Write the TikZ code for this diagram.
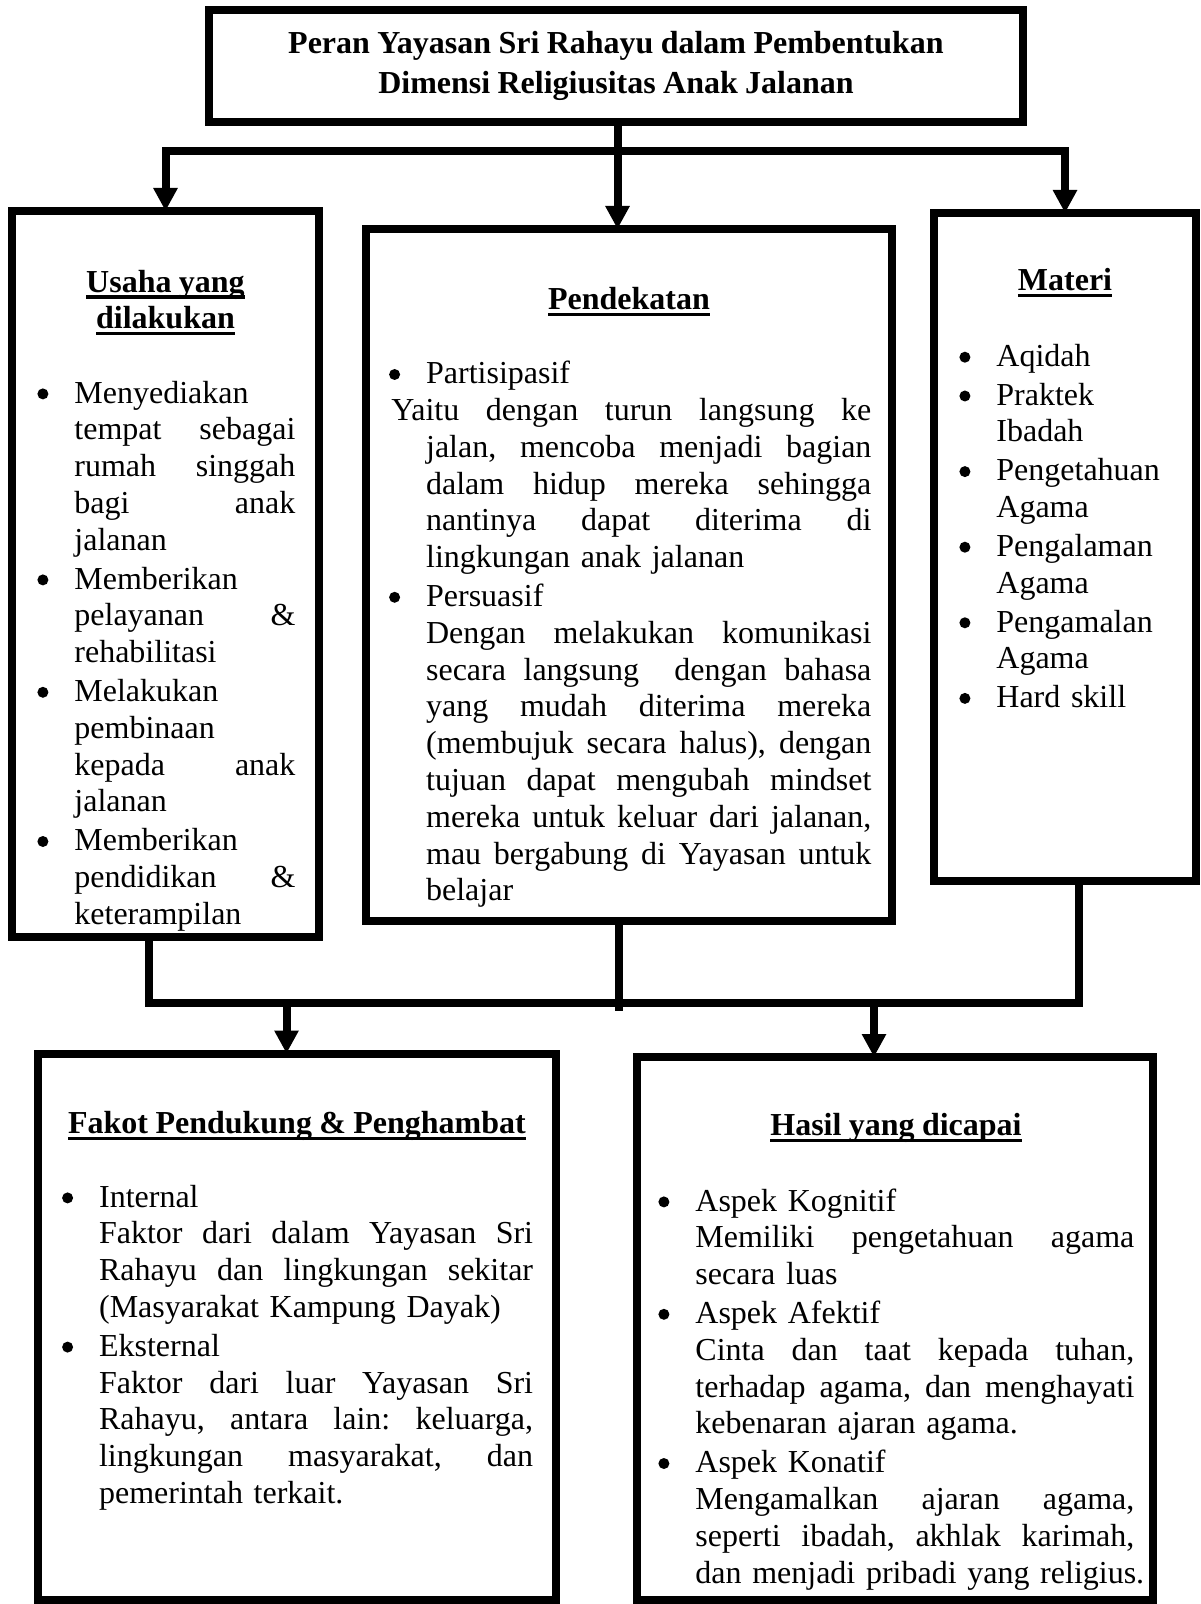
\documentclass[tikz,border=0pt]{standalone}
\usepackage{fontspec}
\setmainfont{Liberation Serif}
\usetikzlibrary{arrows.meta}

\newcommand{\bodyfont}{\fontsize{16pt}{18.4pt}\selectfont\parindent=0pt\parskip=0pt\frenchspacing}
\newcommand{\headfont}{\bodyfont\bfseries\spaceskip=0.23em\relax}
\newcommand{\titlefont}{\fontsize{16pt}{20pt}\selectfont\bfseries\spaceskip=0.23em\relax}
\newcommand{\topstrut}{\rule{0pt}{12pt}}
\newcommand{\dotmark}{\tikz[baseline=0pt]\fill (0pt,4.6pt) circle[radius=2.75pt];}
\newcommand{\bul}{\leavevmode\llap{\dotmark\hspace{13pt}}}
\newcommand{\jl}[1]{{\spaceskip=0.25em plus 1fill\relax #1}\\}
\newcommand{\hdul}[1]{\leavevmode\setbox0=\hbox{#1}\rlap{\rule[-3.3pt]{\wd0}{1.6pt}}\box0}

\tikzset{
  panel/.style={draw, line width=4pt, inner sep=0pt, outer sep=0pt},
  conn/.style={line width=4pt},
  arr/.style={conn, -{Triangle[width=11.5pt,length=11.5pt]}},
  bodytext/.style={font=\bodyfont, inner sep=0pt, anchor=north west},
  headtext/.style={font=\headfont, inner sep=0pt, anchor=north, align=flush center, text width=#1},
}

\begin{document}
\begin{tikzpicture}[x=0.5pt, y=-0.5pt]
  \useasboundingbox (0,0) rectangle (1200,1604);

  % boxes
  \node[panel, minimum width=407pt, minimum height=55.85pt, font=\titlefont,
        align=flush center, text width=400pt] (title) at (616,65.9)
        {Peran Yayasan Sri Rahayu dalam Pembentukan\\Dimensi Religiusitas Anak Jalanan};
  \node[panel, minimum width=153.5pt, minimum height=363pt] (usaha) at (165.5,574) {};
  \node[panel, minimum width=263pt, minimum height=346pt] (pend) at (629,575) {};
  \node[panel, minimum width=131pt, minimum height=334pt] (materi) at (1065,547) {};
  \node[panel, minimum width=259pt, minimum height=273.25pt] (fakot) at (297,1326.75) {};
  \node[panel, minimum width=258pt, minimum height=271.5pt] (hasil) at (895,1328.5) {};

  % headings
  \node[headtext=150pt] (usahahd) at (165.5,267.7) {\topstrut\hdul{Usaha yang}\\\hdul{dilakukan}};
  \node[headtext=250pt] (pendhd) at (629,285.3) {\topstrut\hdul{Pendekatan}};
  \node[headtext=120pt] (materihd) at (1065,266) {\topstrut\hdul{Materi}};
  \node[headtext=250pt] (fakothd) at (297,1108.7) {\topstrut\hdul{Fakot Pendukung \& Penghambat}};
  \node[headtext=250pt] (hasilhd) at (896,1111) {\topstrut\hdul{Hasil yang dicapai}};

  % contents
  \node[bodytext, text width=110.5pt] (usahatxt) at (74,378.7) {%
    \topstrut\bul Menyediakan\\
    \jl{tempat sebagai}
    \jl{rumah singgah}
    \jl{bagi anak}
    jalanan\\[1pt]
    \bul Memberikan\\
    \jl{pelayanan \&}
    rehabilitasi\\[1pt]
    \bul Melakukan\\
    pembinaan\\
    \jl{kepada anak}
    jalanan\\[1pt]
    \bul Memberikan\\
    \jl{pendidikan \&}
    keterampilan};
  \node[bodytext, text width=222.65pt] (pendtxt) at (425.7,359.3) {%
    \topstrut\bul Partisipasif\\
    \jl{\hspace*{-17.35pt}Yaitu dengan turun langsung ke}
    \jl{jalan, mencoba menjadi bagian}
    \jl{dalam hidup mereka sehingga}
    \jl{nantinya dapat diterima di}
    lingkungan anak jalanan\\[1pt]
    \bul Persuasif\\
    \jl{Dengan melakukan komunikasi}
    \jl{secara langsung\ \ dengan bahasa}
    \jl{yang mudah diterima mereka}
    \jl{(membujuk secara halus), dengan}
    \jl{tujuan dapat mengubah mindset}
    \jl{mereka untuk keluar dari jalanan,}
    \jl{mau bergabung di Yayasan untuk}
    belajar};
  \node[bodytext, text width=85pt] (materitxt) at (996,342) {%
    \topstrut\bul Aqidah\\[1pt]
    \bul Praktek\\
    Ibadah\\[1pt]
    \bul Pengetahuan\\
    Agama\\[1pt]
    \bul Pengalaman\\
    Agama\\[1pt]
    \bul Pengamalan\\
    Agama\\[1pt]
    \bul Hard skill};
  \node[bodytext, text width=217pt] (fakottxt) at (98.7,1182.7) {%
    \topstrut\bul Internal\\
    \jl{Faktor dari dalam Yayasan Sri}
    \jl{Rahayu dan lingkungan sekitar}
    (Masyarakat Kampung Dayak)\\[1pt]
    \bul Eksternal\\
    \jl{Faktor dari luar Yayasan Sri}
    \jl{Rahayu, antara lain: keluarga,}
    \jl{lingkungan masyarakat, dan}
    pemerintah terkait.};
  \node[bodytext, text width=219.5pt] (hasiltxt) at (695,1186.7) {%
    \topstrut\bul Aspek Kognitif\\
    \jl{Memiliki pengetahuan agama}
    secara luas\\[1pt]
    \bul Aspek Afektif\\
    \jl{Cinta dan taat kepada tuhan,}
    \jl{terhadap agama, dan menghayati}
    kebenaran ajaran agama.\\[1pt]
    \bul Aspek Konatif\\
    \jl{Mengamalkan ajaran agama,}
    \jl{seperti ibadah, akhlak karimah,}
    \mbox{dan menjadi pribadi yang religius.}};

  % connectors
  \coordinate (jtop) at (617.5,151);
  \coordinate (jbl) at (149,1003);
  \coordinate (jbr) at (1079,1003);
  \coordinate (jmid) at (619,1011);
  \coordinate (jfa) at (286.5,1003);
  \coordinate (jha) at (874,1003);
  \draw[arr] (title.south -| jtop) -- (pend.north -| jtop);
  \draw[arr] (jtop) -- (usaha.north |- jtop) -- (usaha.north);
  \draw[arr] (jtop) -- (materi.north |- jtop) -- (materi.north);
  \draw[conn] (usaha.south -| jbl) -- (jbl) -- (jbr) -- (materi.south -| jbr);
  \draw[conn] (pend.south -| jmid) -- (jmid);
  \draw[arr] (jfa) -- (fakot.north -| jfa);
  \draw[arr] (jha) -- (hasil.north -| jha);
\end{tikzpicture}
\end{document}
